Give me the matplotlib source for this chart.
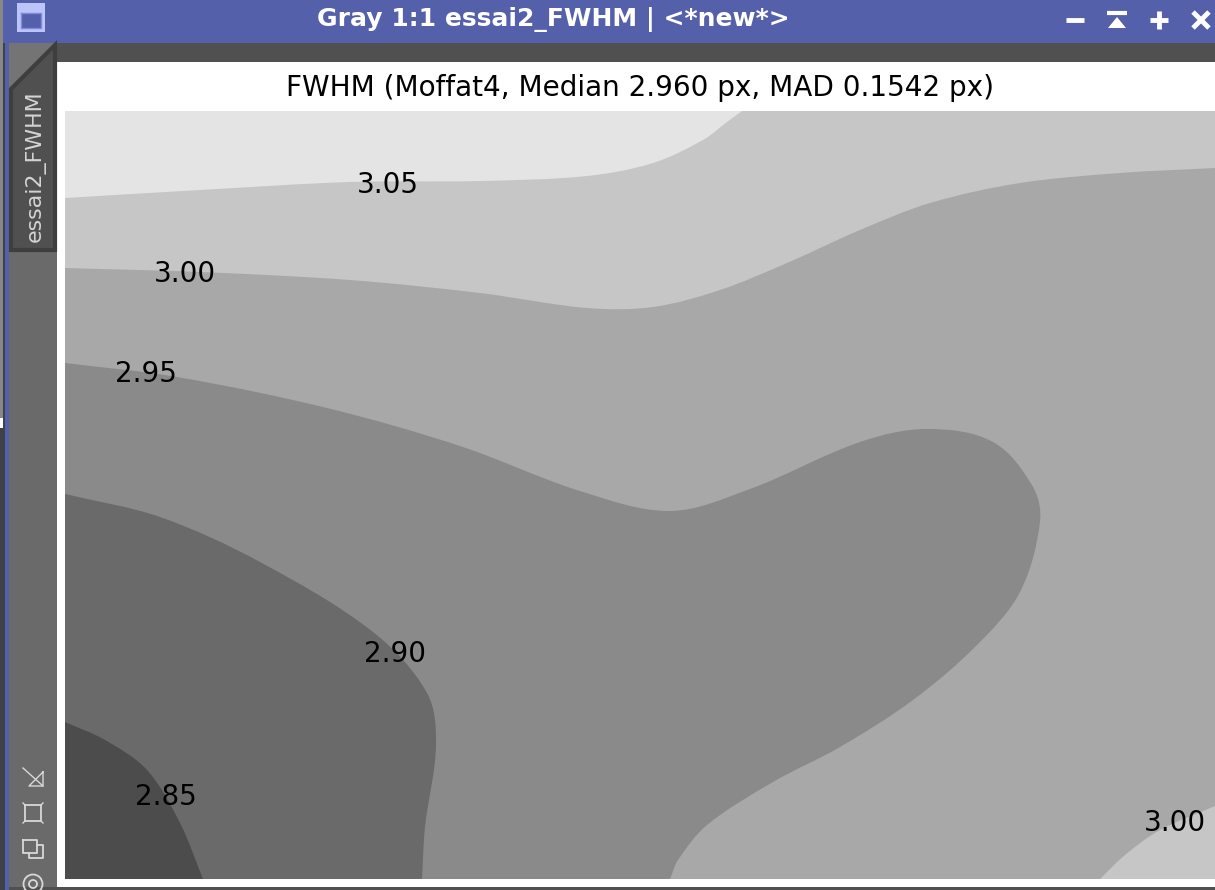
import numpy as np
import matplotlib
matplotlib.use('Agg')
import matplotlib.pyplot as plt
from matplotlib.path import Path
from matplotlib.patches import PathPatch, Rectangle, Polygon, Circle

# contour boundaries (x, y in window pixels)
c305_x = [65, 200, 350, 480, 587, 653, 703, 727, 742]
c305_y = [198, 190, 182, 181, 176, 163, 140, 122, 111]
c300_x = [65, 200, 350, 480, 587, 653, 720, 787, 860, 930, 1020, 1120, 1215]
c300_y = [268, 272, 280, 293, 308, 307, 290, 263, 230, 203, 183, 173, 168]
c295_x = [65, 177, 327, 460, 580, 670, 750, 860, 927, 993, 1033, 1040, 1020, 977, 913, 840, 773, 707, 678, 670]
c295_y = [363, 377, 408, 446, 491, 511, 489, 442, 429, 442, 487, 522, 592, 645, 700, 747, 782, 825, 860, 879]
c290_x = [65, 160, 260, 373, 427, 436, 425, 422]
c290_y = [494, 517, 562, 632, 693, 745, 827, 879]
c285_x = [65, 105, 147, 180, 203]
c285_y = [722, 740, 770, 823, 879]
c300b_x = [1100, 1125, 1160, 1215]
c300b_y = [879, 855, 830, 806]

# contour labels
label_txt = ['3.05', '3.00', '2.95', '2.90', '2.85', '3.00']
label_x = [388, 185, 146, 395, 166, 1175]
label_y = [185, 274, 374, 654, 797, 823]

X0, X1, Y0, Y1 = 65, 1215, 111, 879
band_base = '#a8a8a8'
BLUE = '#5560ab'


def smooth_path(x, y, closing):
    # bezier through the read points, handles scaled by segment length
    pts = np.column_stack([x, y]).astype(float)
    tang = np.zeros_like(pts)
    for i in range(len(pts)):
        d = pts[min(i + 1, len(pts) - 1)] - pts[max(i - 1, 0)]
        tang[i] = d / np.hypot(d[0], d[1])
    verts = [pts[0]]
    codes = [Path.MOVETO]
    for i in range(len(pts) - 1):
        seg = np.hypot(*(pts[i + 1] - pts[i])) / 3
        verts += [pts[i] + tang[i] * seg, pts[i + 1] - tang[i + 1] * seg, pts[i + 1]]
        codes += [Path.CURVE4] * 3
    for c in closing:
        verts.append(c)
        codes.append(Path.LINETO)
    verts.append(pts[0])
    codes.append(Path.CLOSEPOLY)
    return Path(verts, codes)


fig = plt.figure(figsize=(12.15, 8.9), dpi=100)

# window frame, in pixels
bg = fig.add_axes([0, 0, 1, 1])
bg.set_xlim(0, 1215)
bg.set_ylim(890, 0)
bg.axis('off')


def rect(x0, y0, x1, y1, col, **kw):
    bg.add_patch(Rectangle((x0, y0), x1 - x0, y1 - y0, fc=col, ec='none', **kw))


rect(0, 0, 1215, 890, '#505050')
rect(0, 0, 3, 418, '#888888')
rect(0, 418, 3, 428, '#ffffff')
rect(0, 428, 5, 890, '#404048')
rect(3, 0, 5, 428, '#404048')
rect(5, 0, 9, 890, BLUE)
rect(3, 0, 1215, 43, BLUE)
rect(9, 43, 57, 887, '#6a6a6a')
rect(57, 62, 1215, 887, '#ffffff')
rect(17, 3, 45, 32, '#bcc4fa')
rect(21, 13, 41, 28, BLUE)
bg.plot([21, 41, 41, 21, 21], [13, 13, 28, 28, 13], color='#7f8ad8', lw=1)

# side tab
bg.add_patch(Rectangle((9, 43), 48, 45, fc='#747474', ec='none'))
bg.add_patch(Polygon([(11, 89), (55, 45), (55, 250), (11, 250)], fc='#505050', ec='#3e3e3e', lw=3))
bg.text(35, 166, 'essai2_FWHM', rotation=90, ha='center', va='center', color='#d4d4d4', fontsize=15.9)

bg.text(553.5, 20, 'Gray 1:1 essai2_FWHM | <*new*>', ha='center', va='center', color='white',
        fontsize=18, fontweight='bold')

# title bar buttons
bg.plot([1066, 1084], [20, 20], color='white', lw=3.5, solid_capstyle='butt')
bg.plot([1107, 1127], [13, 13], color='white', lw=3, solid_capstyle='butt')
bg.add_patch(Polygon([(1108, 28), (1126, 28), (1117, 17)], fc='white', ec='none'))
bg.plot([1150, 1168], [20, 20], color='white', lw=3.5, solid_capstyle='butt')
bg.plot([1159, 1159], [11, 29], color='white', lw=3.5, solid_capstyle='butt')
bg.plot([1193, 1209], [12, 28], color='white', lw=3.5, solid_capstyle='butt')
bg.plot([1193, 1209], [28, 12], color='white', lw=3.5, solid_capstyle='butt')

# side icons
ic = '#d8d8d8'
bg.plot([23, 43], [768, 786], color=ic, lw=1)
bg.plot([43, 43, 29, 43], [772, 786, 786, 772], color=ic, lw=1)
bg.plot([25, 41, 41, 25, 25], [805, 805, 821, 821, 805], color=ic, lw=1.3)
for xa, ya, xb, yb in [(23, 803, 25, 805), (43, 803, 41, 805), (23, 823, 25, 821), (43, 823, 41, 821)]:
    bg.plot([xa, xb], [ya, yb], color=ic, lw=1)
bg.plot([23, 37, 37, 23, 23], [840, 840, 853, 853, 840], color=ic, lw=1.3)
bg.plot([37, 43, 43, 29, 29], [845, 845, 858, 858, 853], color=ic, lw=1.3)
bg.add_patch(Circle((33, 884), 9.5, fc='none', ec=ic, lw=1.3))
bg.add_patch(Circle((33, 884), 4, fc='none', ec=ic, lw=1.3))

# the map itself
ax = fig.add_axes([X0 / 1215, 1 - Y1 / 890, (X1 - X0) / 1215, (Y1 - Y0) / 890])
ax.set_xlim(X0, X1)
ax.set_ylim(Y1, Y0)
ax.set_facecolor(band_base)
ax.set_xticks([])
ax.set_yticks([])
for spine in ax.spines.values():
    spine.set_visible(False)

ax.add_patch(PathPatch(smooth_path(c300_x, c300_y, [(X1, Y0), (X0, Y0)]), fc='#c6c6c6', ec='none'))
ax.add_patch(PathPatch(smooth_path(c305_x, c305_y, [(X0, Y0)]), fc='#e4e4e4', ec='none'))
ax.add_patch(PathPatch(smooth_path(c295_x, c295_y, [(X0, Y1)]), fc='#8a8a8a', ec='none'))
ax.add_patch(PathPatch(smooth_path(c290_x, c290_y, [(X0, Y1)]), fc='#6a6a6a', ec='none'))
ax.add_patch(PathPatch(smooth_path(c285_x, c285_y, [(X0, Y1)]), fc='#4c4c4c', ec='none'))
ax.add_patch(PathPatch(smooth_path(c300b_x, c300b_y, [(X1, Y1)]), fc='#c6c6c6', ec='none'))

for t, lx, ly in zip(label_txt, label_x, label_y):
    ax.text(lx, ly, t, ha='center', va='center', color='black', fontsize=20)

ax.set_title('FWHM (Moffat4, Median 2.960 px, MAD 0.1542 px)', fontsize=20.1, pad=11, x=(639.5 - X0) / (X1 - X0))

fig.savefig('out.png', dpi=100)
